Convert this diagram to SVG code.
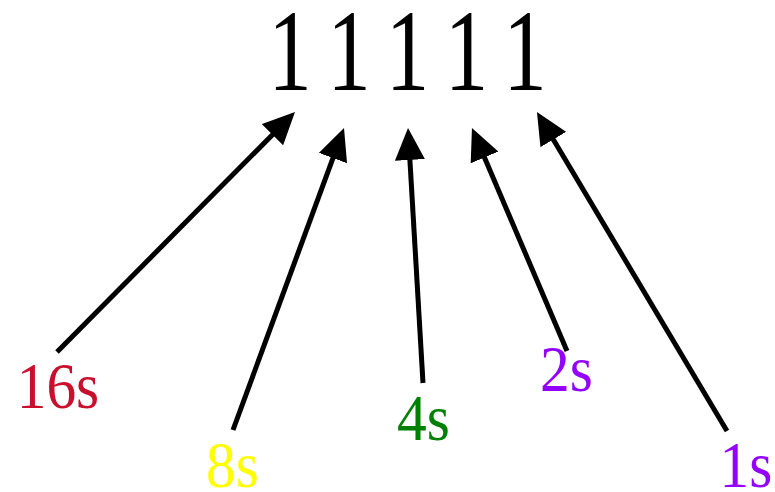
<svg xmlns="http://www.w3.org/2000/svg" width="775" height="492" viewBox="0 0 775 492">
  <style>
    .num { font-size: 116px; fill: #000; text-anchor: middle; }
    .lbl { font-size: 66px; text-anchor: middle; }
    .arrow { stroke: #000; stroke-width: 5; fill: none; marker-end: url(#head); }
  </style>
  <defs>
    <marker id="head" markerUnits="userSpaceOnUse" markerWidth="32" markerHeight="30" refX="12" refY="15" orient="auto">
      <path d="M0,0 L32,15 L0,30 z" fill="#000"/>
    </marker>
  </defs>

  <g font-family="'Liberation Serif', 'Times New Roman', Times, serif">
    <!-- five binary digits, each centred over its arrow (narrowed glyphs) -->
    <g id="binary" transform="scale(0.75,1)">
      <text class="num" x="386.67 465.33 543.33 622 700" y="90">11111</text>
    </g>

    <g transform="scale(0.9,1)">
      <g id="label-16s"><text class="lbl" x="64.44" y="408" fill="#c8102e">16s</text></g>
      <g id="label-8s"><text class="lbl" x="258.33" y="487" fill="#ffff00">8s</text></g>
      <g id="label-4s"><text class="lbl" x="470.56" y="440" fill="#008000">4s</text></g>
      <g id="label-2s"><text class="lbl" x="629.44" y="391" fill="#9400ff">2s</text></g>
      <g id="label-1s"><text class="lbl" x="828.89" y="487" fill="#9400ff">1s</text></g>
    </g>
  </g>

  <g id="connectors">
    <line class="arrow" x1="57" y1="352" x2="280.9" y2="126.2"/>
    <line class="arrow" x1="233" y1="430" x2="337.1" y2="146.8"/>
    <line class="arrow" x1="423" y1="383" x2="409.2" y2="148"/>
    <line class="arrow" x1="567" y1="351" x2="479.8" y2="146.4"/>
    <line class="arrow" x1="727" y1="431" x2="547.2" y2="129.2"/>
  </g>
</svg>
